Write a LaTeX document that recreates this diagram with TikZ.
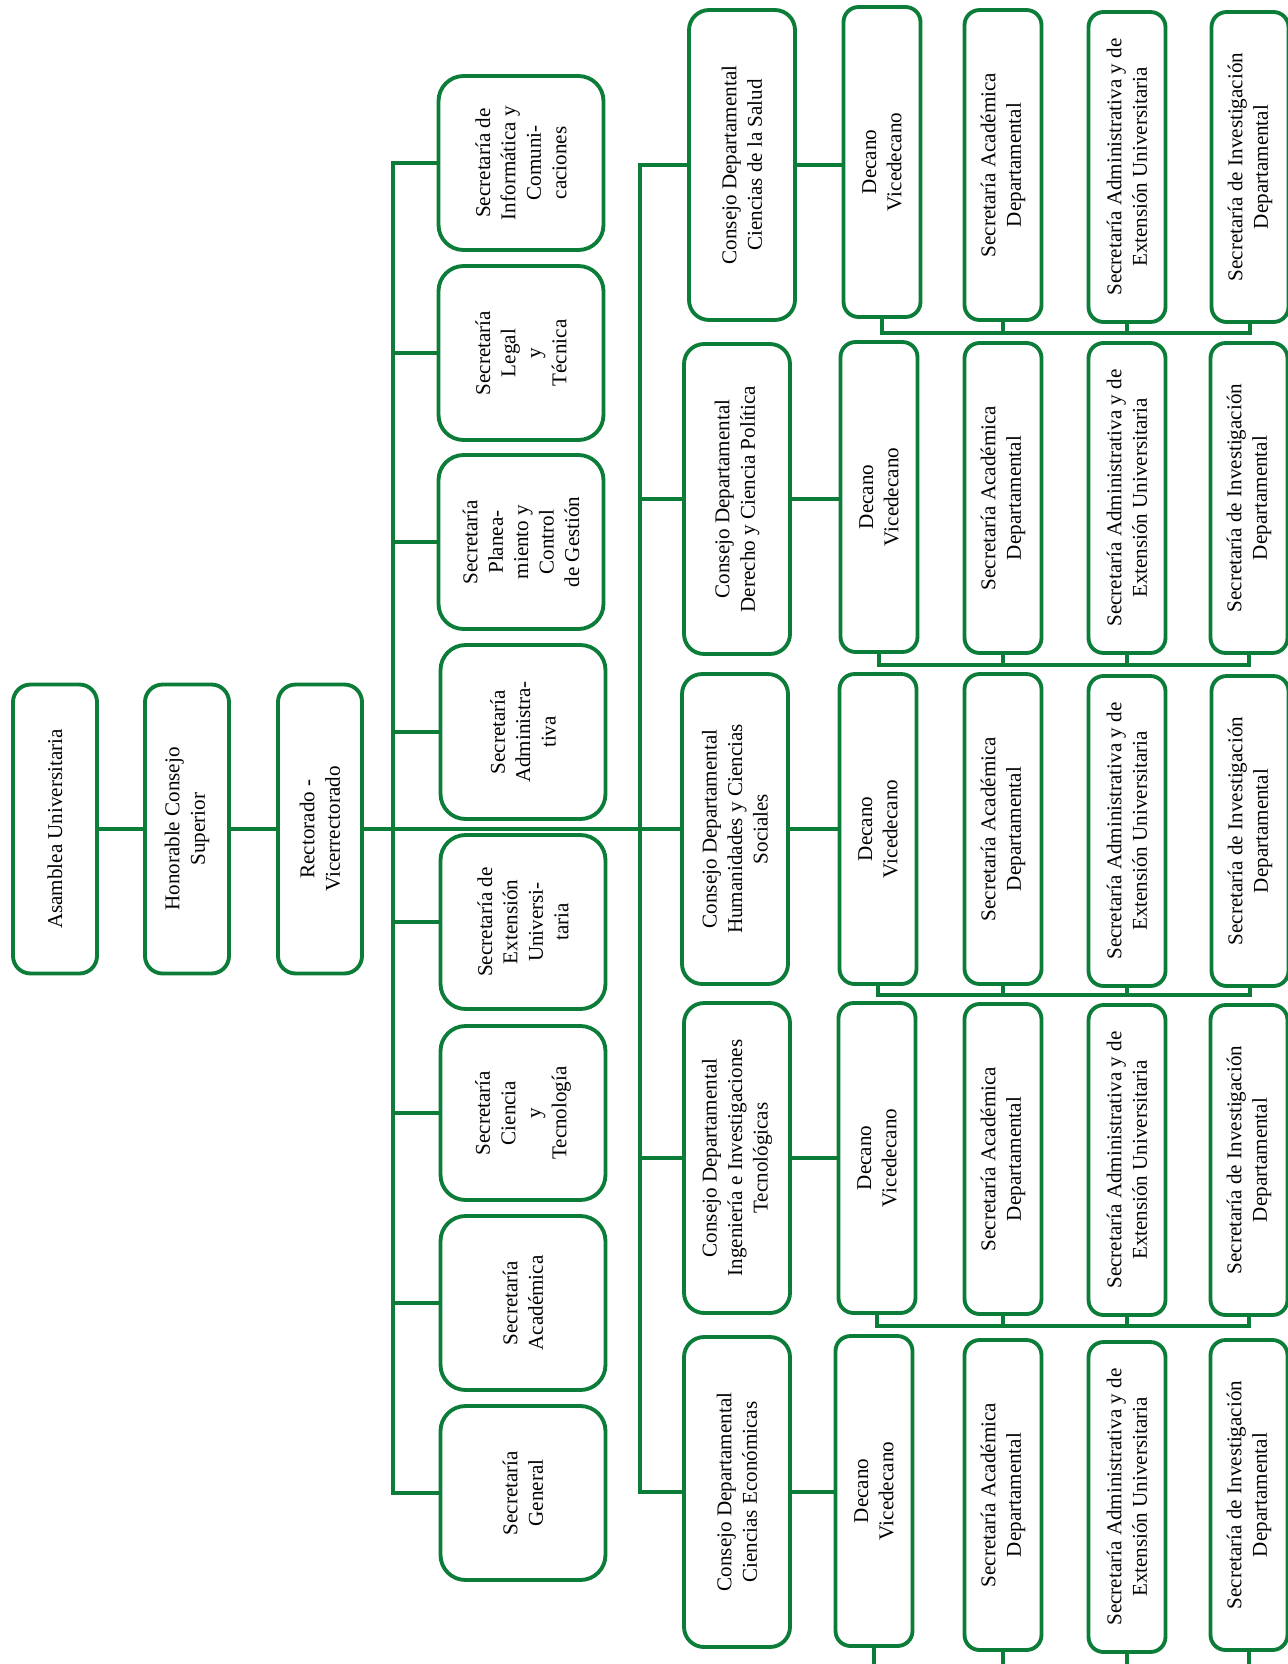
\documentclass[tikz,border=0pt]{standalone}
\usepackage{fontspec}
\setmainfont{Liberation Serif}
\usepackage{tikz}
\usetikzlibrary{positioning,calc}
\definecolor{uniGreen}{RGB}{12,125,57}

\begin{document}
\begin{tikzpicture}[
        x=0.02cm, y=-0.02cm,
        orgbox/.style={draw=uniGreen, line width=2.2pt, rotate=90, align=center,
          inner sep=2pt, font=\fontsize{12}{14.5}\selectfont},
        topbox/.style={orgbox, rounded corners=0.35cm, minimum width=5.78cm, minimum height=1.68cm},
        secbox/.style={orgbox, rounded corners=0.5cm, minimum width=3.48cm, minimum height=3.3cm},
        consbox/.style={orgbox, rounded corners=0.4cm, minimum width=6.2cm, minimum height=2.12cm},
        depbox/.style={orgbox, rounded corners=0.3cm, minimum width=6.2cm, minimum height=1.54cm},
        link/.style={uniGreen, line width=2pt}
      ]
        \useasboundingbox (0,0) rectangle (1288,1664);
        % Governing bodies
        \node[topbox] (asam) at (55,829) {Asamblea Universitaria};
        \node[topbox] (hon) at (187,829) {Honorable Consejo\\Superior};
        \node[topbox] (rect) at (320,829) {Rectorado -\\Vicerrectorado};
        % Secretarías of the Rectorado
        \node[secbox] (sec1) at (521,163) {Secretaría de\\Informática y\\Comuni-\\caciones};
        \node[secbox] (sec2) at (521,353) {Secretaría\\Legal\\y\\Técnica};
        \node[secbox] (sec3) at (521,542) {Secretaría\\Planea-\\miento y\\Control\\de Gestión};
        \node[secbox] (sec4) at (523,732) {Secretaría\\Administra-\\tiva};
        \node[secbox] (sec5) at (523,922) {Secretaría de\\Extensión\\Universi-\\taria};
        \node[secbox] (sec6) at (523,1113) {Secretaría\\Ciencia\\y\\Tecnología};
        \node[secbox] (sec7) at (523,1303) {Secretaría\\Académica};
        \node[secbox] (sec8) at (523,1493) {Secretaría\\General};
        % Consejos departamentales
        \node[consbox] (cons1) at (742,165) {Consejo Departamental\\Ciencias de la Salud};
        \node[consbox] (cons2) at (737,499) {Consejo Departamental\\Derecho y Ciencia Política};
        \node[consbox] (cons3) at (735,829) {Consejo Departamental\\Humanidades y Ciencias\\Sociales};
        \node[consbox] (cons4) at (737,1158) {Consejo Departamental\\Ingeniería e Investigaciones\\Tecnológicas};
        \node[consbox] (cons5) at (737,1492) {Consejo Departamental\\Ciencias Económicas};
        % Row 1: Ciencias de la Salud
        \node[depbox] (dec1) at (882,162) {Decano\\Vicedecano};
        \node[depbox] (acad1) at (1003,165) {Secretaría Académica\\Departamental};
        \node[depbox] (adm1) at (1127,167) {Secretaría Administrativa y de\\Extensión Universitaria};
        \node[depbox] (inv1) at (1250,167) {Secretaría de Investigación\\Departamental};
        % Row 2: Derecho y Ciencia Política
        \node[depbox] (dec2) at (879,497) {Decano\\Vicedecano};
        \node[depbox] (acad2) at (1003,498) {Secretaría Académica\\Departamental};
        \node[depbox] (adm2) at (1127,498) {Secretaría Administrativa y de\\Extensión Universitaria};
        \node[depbox] (inv2) at (1249,498) {Secretaría de Investigación\\Departamental};
        % Row 3: Humanidades y Ciencias Sociales
        \node[depbox] (dec3) at (878,829) {Decano\\Vicedecano};
        \node[depbox] (acad3) at (1003,829) {Secretaría Académica\\Departamental};
        \node[depbox] (adm3) at (1127,831) {Secretaría Administrativa y de\\Extensión Universitaria};
        \node[depbox] (inv3) at (1250,831) {Secretaría de Investigación\\Departamental};
        % Row 4: Ingeniería e Investigaciones Tecnológicas
        \node[depbox] (dec4) at (877,1158) {Decano\\Vicedecano};
        \node[depbox] (acad4) at (1003,1159) {Secretaría Académica\\Departamental};
        \node[depbox] (adm4) at (1127,1160) {Secretaría Administrativa y de\\Extensión Universitaria};
        \node[depbox] (inv4) at (1249,1160) {Secretaría de Investigación\\Departamental};
        % Row 5: Ciencias Económicas
        \node[depbox] (dec5) at (874,1491) {Decano\\Vicedecano};
        \node[depbox] (acad5) at (1003,1495) {Secretaría Académica\\Departamental};
        \node[depbox] (adm5) at (1127,1497) {Secretaría Administrativa y de\\Extensión Universitaria};
        \node[depbox] (inv5) at (1249,1495) {Secretaría de Investigación\\Departamental};
        % Bus points
        \coordinate (sbus) at (393,829);
        \coordinate (cbus) at (640,829);
        \coordinate (bus1) at (1003,333);
        \coordinate (bus2) at (1003,665);
        \coordinate (bus3) at (1003,995);
        \coordinate (bus4) at (1003,1326);
        \coordinate (pagebottom) at (1003,1664);
        % Main line
        \draw[link] (asam.south) -- (hon.north);
        \draw[link] (hon.south) -- (rect.north);
        \draw[link] (rect.south) -- (cons3.north);
        % Secretarías bus
        \draw[link] (sec1.north) -| (sbus) |- (sec8.north);
        \draw[link] (sec2.north) -- (sec2.north -| sbus); \draw[link] (sec3.north) -- (sec3.north -| sbus);
        \draw[link] (sec4.north) -- (sec4.north -| sbus); \draw[link] (sec5.north) -- (sec5.north -| sbus);
        \draw[link] (sec6.north) -- (sec6.north -| sbus); \draw[link] (sec7.north) -- (sec7.north -| sbus);
        % Consejos bus
        \draw[link] (cons1.north) -| (cbus) |- (cons5.north);
        \draw[link] (cons2.north) -- (cons2.north -| cbus);
        \draw[link] (cons4.north) -- (cons4.north -| cbus);
        % Consejo to Decano
        \draw[link] (cons1.south) -- (cons1.south -| dec1.north);
        \draw[link] (cons2.south) -- (cons2.south -| dec2.north);
        \draw[link] (cons3.south) -- (cons3.south -| dec3.north);
        \draw[link] (cons4.south) -- (cons4.south -| dec4.north);
        \draw[link] (cons5.south) -- (cons5.south -| dec5.north);
        % Department buses
        \draw[link] (dec1.west) |- (bus1) -| (inv1.west);
        \draw[link] (acad1.west) -- (bus1); \draw[link] (adm1.west) -- (adm1.west |- bus1);
        \draw[link] (dec2.west) |- (bus2) -| (inv2.west);
        \draw[link] (acad2.west) -- (bus2); \draw[link] (adm2.west) -- (adm2.west |- bus2);
        \draw[link] (dec3.west) |- (bus3) -| (inv3.west);
        \draw[link] (acad3.west) -- (bus3); \draw[link] (adm3.west) -- (adm3.west |- bus3);
        \draw[link] (dec4.west) |- (bus4) -| (inv4.west);
        \draw[link] (acad4.west) -- (bus4); \draw[link] (adm4.west) -- (adm4.west |- bus4);
        % Row 5 continues below the page
        \draw[link] (dec5.west) -- (dec5.west |- pagebottom); \draw[link] (acad5.west) -- (pagebottom);
        \draw[link] (adm5.west) -- (adm5.west |- pagebottom); \draw[link] (inv5.west) -- (inv5.west |- pagebottom);
      \end{tikzpicture}
\end{document}
